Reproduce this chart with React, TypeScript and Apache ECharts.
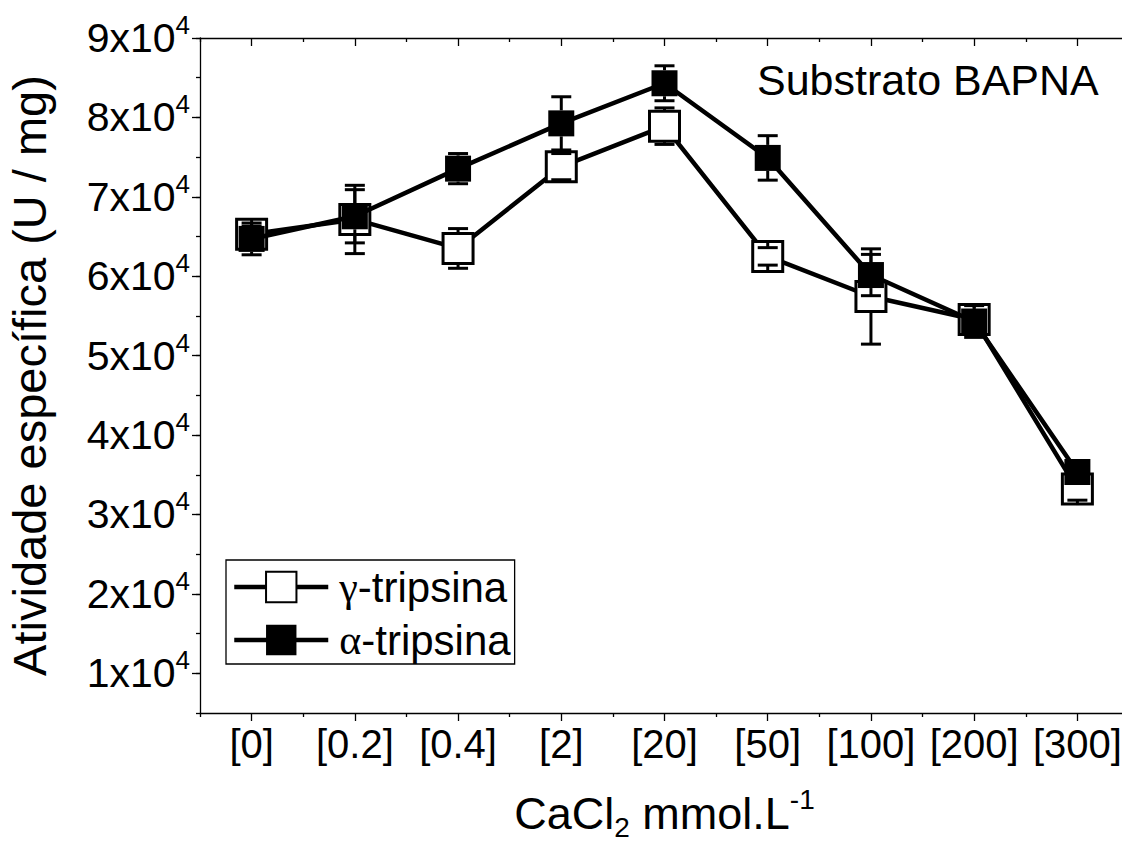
import React, { useEffect, useRef } from 'react';
import * as echarts from 'echarts';

const categories = ['[0]', '[0.2]', '[0.4]', '[2]', '[20]', '[50]', '[100]', '[200]', '[300]'];
const seriesNames = ['γ-tripsina', 'α-tripsina'];
const gammaValues = [65300, 67150, 63500, 73800, 78900, 62500, 57450, 54550, 33200];
const gammaErrors = [1000, 4300, 2500, 1650, 2300, 1100, 6000, 1000, 1400];
const alphaValues = [64700, 67550, 73550, 79250, 84300, 74900, 60150, 54300, 35350];
const alphaErrors = [2000, 3350, 1900, 3350, 2200, 2800, 2600, 2000, 900];
const yMin = 5000;
const yMax = 90000;
const yMinorStep = 5000;
const yMajorTicks = [10000, 20000, 30000, 40000, 50000, 60000, 70000, 80000, 90000];
const titleText = 'Substrato BAPNA';
const yName = 'Atividade específica (U / mg)';

const FONT = '"Liberation Sans", Arial, Helvetica, sans-serif';

function errorRender(half: number) {
  return (params: any, api: any) => {
    const idx = api.value(0);
    const v = api.value(1);
    const e = api.value(2);
    const c = api.coord([idx, v]);
    const top = api.coord([idx, v + e]);
    const bot = api.coord([idx, v - e]);
    const w = 10;
    const style = { stroke: '#000', lineWidth: 3, fill: null };
    return {
      type: 'group',
      children: [
        { type: 'line', shape: { x1: c[0], y1: c[1] - half, x2: top[0], y2: top[1] }, style },
        { type: 'line', shape: { x1: c[0], y1: c[1] + half, x2: bot[0], y2: bot[1] }, style },
        { type: 'line', shape: { x1: top[0] - w, y1: top[1], x2: top[0] + w, y2: top[1] }, style },
        { type: 'line', shape: { x1: bot[0] - w, y1: bot[1], x2: bot[0] + w, y2: bot[1] }, style },
      ],
    };
  };
}

function sciLabel(v: number) {
  const exp = Math.floor(Math.log10(v) + 1e-9);
  const mant = Math.round(v / Math.pow(10, exp));
  return `{b|${mant}x10}{s|${exp}}`;
}

export default function App() {
  const ref = useRef<HTMLDivElement>(null);
  useEffect(() => {
    if (!ref.current) return;
    const chart = echarts.init(ref.current, undefined, { renderer: 'svg' });
    const axisLine = { show: true, lineStyle: { color: '#000', width: 1.3 } };
    const option: any = {
      animation: false,
      backgroundColor: '#fff',
      title: {
        text: titleText,
        left: 757,
        top: 58,
        padding: 0,
        textStyle: { fontFamily: FONT, fontSize: 43, fontWeight: 'normal', color: '#000' },
      },
      grid: { left: 200, right: -7, top: 38, bottom: 131, containLabel: false, outerBoundsMode: 'none' },
      legend: {
        orient: 'vertical',
        left: 226,
        top: 560,
        padding: [5, 4, 2, 6],
        itemWidth: 94,
        itemHeight: 38,
        itemGap: 9,
        borderColor: '#000',
        borderWidth: 1.3,
        data: seriesNames,
        lineStyle: { width: 4.5, color: '#000' },
        formatter: (name: string) => `{g|${name[0]}}{t|${name.slice(1)}}`,
        textStyle: {
          color: '#000',
          fontFamily: FONT,
          fontSize: 42,
          lineHeight: 44,
          rich: {
            g: { fontFamily: '"Liberation Serif", "DejaVu Serif", serif', fontSize: 42, color: '#000', padding: [0, 0, 0, 6] },
            t: { fontFamily: FONT, fontSize: 42, color: '#000' },
          },
        },
      },
      xAxis: [
        {
          type: 'category',
          data: categories,
          position: 'bottom',
          boundaryGap: true,
          axisLine,
          axisTick: { show: true, alignWithLabel: true, interval: 0, length: 8, lineStyle: { color: '#000', width: 1.3 } },
          axisLabel: { interval: 0, fontFamily: FONT, fontSize: 40, color: '#000', margin: 11 },
          splitLine: { show: false },
          name: 'CaCl{sub|2} mmol.L{sup|-1}',
          nameLocation: 'middle',
          nameGap: 72,
          nameTextStyle: {
            fontFamily: FONT,
            fontSize: 45,
            color: '#000',
            lineHeight: 56,
            rich: {
              sub: { fontFamily: FONT, fontSize: 28, lineHeight: 20, verticalAlign: 'bottom', color: '#000' },
              sup: { fontFamily: FONT, fontSize: 28, lineHeight: 28, verticalAlign: 'top', color: '#000' },
            },
          },
        },
        {
          type: 'category',
          data: categories,
          position: 'bottom',
          boundaryGap: true,
          axisLine: { show: false },
          axisTick: { show: true, interval: 0, length: 4, lineStyle: { color: '#000', width: 1.3 } },
          axisLabel: { show: false },
          splitLine: { show: false },
        },
        {
          type: 'category',
          data: categories,
          position: 'top',
          boundaryGap: true,
          axisLine,
          axisTick: { show: true, inside: true, alignWithLabel: true, interval: 0, length: 8, lineStyle: { color: '#000', width: 1.3 } },
          axisLabel: { show: false },
          splitLine: { show: false },
        },
        {
          type: 'category',
          data: categories,
          position: 'top',
          boundaryGap: true,
          axisLine: { show: false },
          axisTick: { show: true, inside: true, interval: 0, length: 4, lineStyle: { color: '#000', width: 1.3 } },
          axisLabel: { show: false },
          splitLine: { show: false },
        },
      ],
      yAxis: [
        {
          type: 'value',
          position: 'left',
          min: yMin,
          max: yMax,
          interval: yMinorStep,
          axisLine,
          axisTick: { show: true, length: 4, lineStyle: { color: '#000', width: 1.3 } },
          axisLabel: { show: false },
          splitLine: { show: false },
          name: yName,
          nameLocation: 'middle',
          nameGap: 147,
          nameRotate: 90,
          nameTextStyle: { fontFamily: FONT, fontSize: 47, color: '#000' },
        },
        {
          type: 'value',
          position: 'left',
          min: yMin,
          max: yMax,
          axisLine: { show: false },
          axisTick: { show: true, length: 8, customValues: yMajorTicks, lineStyle: { color: '#000', width: 1.3 } },
          axisLabel: {
            customValues: yMajorTicks,
            margin: 10,
            formatter: (v: number) => sciLabel(v),
            rich: {
              b: { fontFamily: FONT, fontSize: 41, lineHeight: 58, color: '#000' },
              s: { fontFamily: FONT, fontSize: 26, lineHeight: 26, verticalAlign: 'top', color: '#000', padding: [3, 0, 0, 0] },
            },
          },
          splitLine: { show: false },
        },
      ],
      series: [
        {
          name: seriesNames[0],
          type: 'line',
          data: gammaValues,
          xAxisIndex: 0,
          yAxisIndex: 0,
          symbol: 'rect',
          symbolSize: 30,
          lineStyle: { color: '#000', width: 4.5 },
          itemStyle: { color: '#fff', borderColor: '#000', borderWidth: 3 },
          z: 2,
        },
        {
          type: 'custom',
          xAxisIndex: 0,
          yAxisIndex: 0,
          data: categories.map((c, i) => [i, gammaValues[i], gammaErrors[i]]),
          encode: { x: 0, y: 1 },
          renderItem: errorRender(16),
          z: 3,
        },
        {
          name: seriesNames[1],
          type: 'line',
          data: alphaValues,
          xAxisIndex: 0,
          yAxisIndex: 0,
          symbol: 'rect',
          symbolSize: 26,
          lineStyle: { color: '#000', width: 4.5 },
          itemStyle: { color: '#000', borderColor: '#000', borderWidth: 0 },
          z: 4,
        },
        {
          type: 'custom',
          xAxisIndex: 0,
          yAxisIndex: 0,
          data: categories.map((c, i) => [i, alphaValues[i], alphaErrors[i]]),
          encode: { x: 0, y: 1 },
          renderItem: errorRender(13),
          z: 5,
        },
      ],
    };
    chart.setOption(option);
    return () => chart.dispose();
  }, []);
  return (
    <div
      ref={ref}
      style={{ position: 'absolute', left: 0, top: 0, width: 1122, height: 844, background: '#fff' }}
    />
  );
}
